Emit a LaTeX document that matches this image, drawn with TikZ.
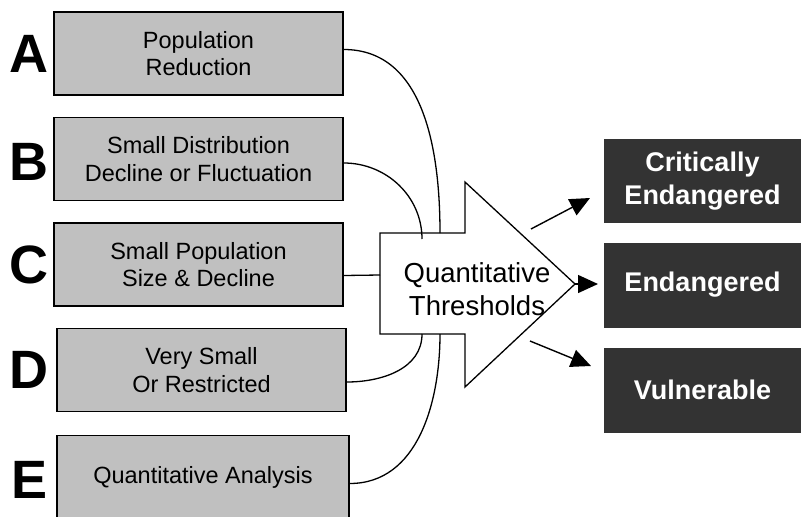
\documentclass[tikz,border=0pt]{standalone}
\usepackage{fontspec}
\setmainfont{Liberation Sans}
\usetikzlibrary{positioning, arrows.meta}
\definecolor{critgray}{HTML}{C0C0C0}
\definecolor{catdark}{HTML}{333333}

\begin{document}
\begin{tikzpicture}[x=1pt, y=-1pt, node distance=105.5pt,
    critbox/.style={draw, line width=1.5pt, fill=critgray, minimum width=289pt, minimum height=83pt, align=center, font=\fontsize{23.5}{27.5}\selectfont},
    catbox/.style={fill=catdark, text=white, minimum width=197pt, minimum height=84pt, align=center, font=\fontsize{27}{33}\selectfont\bfseries},
    lettr/.style={inner sep=0pt, font=\fontsize{54}{54}\selectfont\bfseries},
    link/.style={line width=1.3pt},
    outarrow/.style={line width=1.4pt, -{Triangle[length=20pt, width=18pt]}}]
    \useasboundingbox (0,0) rectangle (801,517);

    % criteria boxes
    \node[critbox] (a) at (198.5,53.5) {Population\\Reduction};
    \node[critbox, below of=a] (b) {Small Distribution\\Decline or Fluctuation};
    \node[critbox, below of=b] (c) {Small Population\\Size \& Decline};
    \node[critbox, below of=c, xshift=3pt] (d) {Very Small\\Or Restricted};
    \node[critbox, below of=d, xshift=1.5pt, yshift=-1.5pt, minimum width=292pt] (e) {Quantitative Analysis};

    \node[lettr, left=5pt of a] (la) {A};
    \node[lettr, left=5pt of b, yshift=-3pt] (lb) {B};
    \node[lettr, left=5pt of c] (lc) {C};
    \node[lettr, left=8pt of d] (ld) {D};
    \node[lettr, left=9pt of e, yshift=-3pt] (le) {E};

    % the big arrow
    \draw[line width=1.3pt, fill=white] (380,233) -- (465,233) -- (465,182) -- (575,284)
        -- (465,387) -- (465,334) -- (380,334) -- cycle;
    \node[align=center, font=\fontsize{27.5}{33}\selectfont] (thr) at (477,289) {Quantitative\\Thresholds};

    \coordinate (ina) at (440,233);
    \coordinate (inb) at (422,239);
    \coordinate (inc) at (380,275);
    \coordinate (ind) at (422,334);
    \coordinate (ine) at (440,334);

    \draw[link] ([yshift=4pt]a.east) to[out=0, in=90] (ina);
    \draw[link] ([yshift=-4pt]b.east) to[out=0, in=90] (inb);
    \draw[link] ([yshift=-11pt]c.east) -- (inc);
    \draw[link] ([yshift=-12pt]d.east) to[out=0, in=-90] (ind);
    \draw[link] ([yshift=-6.5pt]e.east) to[out=0, in=-90] (ine);

    % categories
    \node[catbox] (ce) at (702.5,181) {Critically\\Endangered};
    \node[catbox, below of=ce, node distance=104pt, minimum height=85pt] (en) {Endangered};
    \node[catbox, below of=en, node distance=105pt, minimum height=85pt] (vu) {Vulnerable};

    \coordinate (o1s) at (531,229);
    \coordinate (o1e) at (590,198);
    \coordinate (o2s) at (575,284);
    \coordinate (o2e) at (598,284);
    \coordinate (o3s) at (530,341);
    \coordinate (o3e) at (591,366);

    \draw[outarrow] (o1s) -- (o1e);
    \draw[outarrow] (o2s) -- (o2e);
    \draw[outarrow] (o3s) -- (o3e);
\end{tikzpicture}
\end{document}
